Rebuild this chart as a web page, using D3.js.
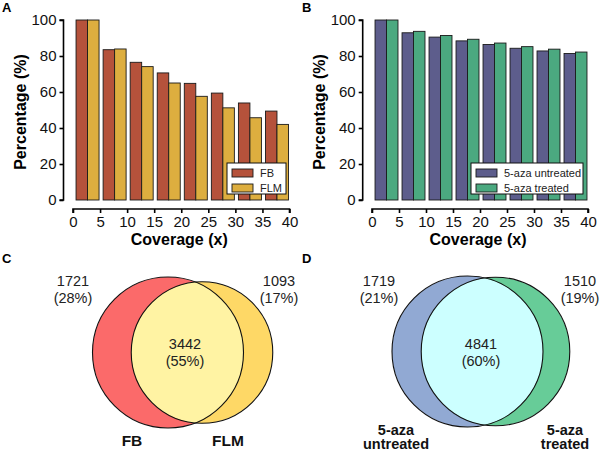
<!DOCTYPE html>
<html>
<head>
<meta charset="utf-8">
<script src="https://cdn.jsdelivr.net/npm/d3@7"></script>
<style>
html,body{margin:0;padding:0;background:#fff;}
svg{display:block;font-family:"Liberation Sans",Arial,Helvetica,sans-serif;}
</style>
</head>
<body>
<svg id="chart" width="600" height="452"></svg>
<script>
// ---- data ----
const coverageTicks = [0, 5, 10, 15, 20, 25, 30, 35, 40];
const coverageBins = ["0-5", "5-10", "10-15", "15-20", "20-25", "25-30", "30-35", "35-40"];
const percentTicks = [0, 20, 40, 60, 80, 100];

const seriesA = ["FB", "FLM"];
const fbValues = [100, 83.5, 76.5, 70.6, 64.8, 59.4, 53.9, 49.4];
const flmValues = [100, 83.9, 74.1, 65.0, 57.6, 51.2, 45.7, 42.0];

const seriesB = ["5-aza untreated", "5-aza treated"];
const untreatedValues = [100, 92.9, 90.5, 88.4, 86.4, 84.3, 82.8, 81.4];
const treatedValues = [100, 93.7, 91.4, 89.3, 87.2, 85.2, 83.8, 82.2];

const vennC = { sets: ["FB", "FLM"], only: [1721, 1093], onlyPct: ["28%", "17%"], both: 3442, bothPct: "55%" };
const vennD = { sets: [["5-aza", "untreated"], ["5-aza", "treated"]], only: [1719, 1510], onlyPct: ["21%", "19%"], both: 4841, bothPct: "60%" };

const svg = d3.select("#chart");

function barPanel(opts) {
  const g = svg.append("g");
  const x = d3.scaleLinear().domain([0, 40]).range([opts.x0, opts.x1]);
  const y = d3.scaleLinear().domain([0, 100]).range([200, 20]);
  const band = d3.scaleBand().domain(coverageBins).range([x(0), x(40)])
    .paddingInner(0.15).paddingOuter(0.075).align(0.75);
  const inner = d3.scaleBand().domain(opts.series).range([0, band.bandwidth()]);

  opts.series.forEach((s, si) => {
    g.selectAll(null).data(opts.values[si]).enter().append("rect")
      .attr("x", (d, i) => band(coverageBins[i]) + inner(s))
      .attr("y", d => y(d))
      .attr("width", inner.bandwidth())
      .attr("height", d => y(0) - y(d))
      .attr("fill", opts.colors[si])
      .attr("stroke", "#1a1a1a")
      .attr("stroke-width", 0.9);
  });

  // y axis
  const yAxis = d3.axisLeft(y).tickValues(percentTicks).tickSize(4).tickPadding(3);
  const ya = g.append("g").attr("transform", `translate(${opts.yAxisX},0)`).call(yAxis);
  ya.select(".domain").attr("d", `M-4,${y(100)}H0V${y(0)}H-4`).attr("stroke-width", 1.6);
  ya.selectAll(".tick line").attr("stroke-width", 1.6);
  ya.selectAll("text").attr("font-size", 15).attr("fill", "#111").attr("font-family", null);

  // x axis
  const xAxis = d3.axisBottom(x).tickValues(coverageTicks).tickSize(4).tickPadding(3);
  const xa = g.append("g").attr("transform", `translate(0,209)`).call(xAxis);
  xa.select(".domain").attr("d", `M${x(0)},4V0H${x(40)}V4`).attr("stroke-width", 1.6);
  xa.selectAll(".tick line").attr("stroke-width", 1.6);
  xa.selectAll("text").attr("font-size", 15).attr("fill", "#111").attr("font-family", null);

  // titles
  g.append("text").attr("transform", `translate(${opts.yAxisX - 38},${(y(0) + y(100)) / 2 + 2}) rotate(-90)`)
    .attr("text-anchor", "middle").attr("font-size", 16).attr("font-weight", "bold").text("Percentage (%)");
  g.append("text").attr("x", (x(0) + x(40)) / 2 - 2).attr("y", 245)
    .attr("text-anchor", "middle").attr("font-size", 16).attr("font-weight", "bold").text("Coverage (x)");

  // panel letter
  g.append("text").attr("x", opts.letterX).attr("y", 12).attr("font-size", 13).attr("font-weight", "bold").text(opts.letter);

  // legend
  const L = opts.legend;
  const lg = g.append("g").attr("transform", `translate(${L.x},${L.y})`);
  lg.append("rect").attr("width", L.w).attr("height", 31).attr("fill", "#fff").attr("stroke", "#111").attr("stroke-width", 1);
  opts.series.forEach((s, si) => {
    lg.append("rect").attr("x", 5).attr("y", 6 + si * 15).attr("width", 21).attr("height", 8)
      .attr("fill", opts.colors[si]).attr("stroke", "#1a1a1a").attr("stroke-width", 0.9);
    lg.append("text").attr("x", 33).attr("y", 14 + si * 15).attr("font-size", 11).attr("fill", "#222").text(s);
  });
}

barPanel({
  x0: 73, x1: 289.5, yAxisX: 63.5, letter: "A", letterX: 2,
  series: seriesA, values: [fbValues, flmValues], colors: ["#b5523b", "#ddae3f"],
  legend: { x: 227, y: 163, w: 59 }
});
barPanel({
  x0: 372, x1: 588, yAxisX: 362.7, letter: "B", letterX: 302,
  series: seriesB, values: [untreatedValues, treatedValues], colors: ["#5d5d8c", "#4ba980"],
  legend: { x: 471, y: 163, w: 112 }
});

// ---- Venn diagrams ----
let clipId = 0;
function venn(v, opts) {
  const g = svg.append("g");
  const sizes = [v.only[0] + v.both, v.only[1] + v.both];
  const r = d3.scaleSqrt().domain([0, d3.max(sizes)]).range([0, opts.rMax]);
  const circles = [
    { cx: opts.cx[0], cy: opts.cy, r: r(sizes[0]), fill: opts.colors[0] },
    { cx: opts.cx[1], cy: opts.cy, r: r(sizes[1]), fill: opts.colors[1] }
  ];
  g.selectAll(null).data(circles).enter().append("circle")
    .attr("cx", d => d.cx).attr("cy", d => d.cy).attr("r", d => d.r).attr("fill", d => d.fill);
  const id = "clip" + (clipId++);
  g.append("clipPath").attr("id", id).append("circle")
    .attr("cx", circles[0].cx).attr("cy", circles[0].cy).attr("r", circles[0].r);
  g.append("circle").attr("clip-path", `url(#${id})`)
    .attr("cx", circles[1].cx).attr("cy", circles[1].cy).attr("r", circles[1].r).attr("fill", opts.colors[2]);
  g.selectAll(null).data(circles).enter().append("circle")
    .attr("cx", d => d.cx).attr("cy", d => d.cy).attr("r", d => d.r)
    .attr("fill", "none").attr("stroke", "#111").attr("stroke-width", 1.1);

  const fmt = d3.format("d");
  const num = (x, y, a, b) => {
    const t = g.append("text").attr("text-anchor", "middle").attr("font-size", 14.5).attr("fill", "#222");
    t.append("tspan").attr("x", x).attr("y", y).text(a);
    t.append("tspan").attr("x", x).attr("y", y + 17).text(b);
  };
  num(opts.labelX[0], 286, fmt(v.only[0]), `(${v.onlyPct[0]})`);
  num(opts.labelX[1], 286, fmt(v.only[1]), `(${v.onlyPct[1]})`);
  num(opts.midX, 349, fmt(v.both), `(${v.bothPct})`);

  v.sets.forEach((s, i) => {
    const lines = Array.isArray(s) ? s : [s];
    lines.forEach((ln, j) => g.append("text").attr("text-anchor", "middle")
      .attr("font-size", opts.setFont).attr("font-weight", "bold").attr("fill", "#111")
      .attr("x", opts.setX[i]).attr("y", opts.setY + j * 14.5).text(ln));
  });

  g.append("text").attr("x", opts.letterX).attr("y", 263).attr("font-size", 13).attr("font-weight", "bold").text(opts.letter);
}

venn(vennC, {
  cx: [168, 202], cy: 352.5, rMax: 75.5, colors: ["#fb6a6a", "#fed866", "#fff3a3"],
  labelX: [73, 279], midX: 185, setX: [132, 228], setY: 446, setFont: 15.5, letter: "C", letterX: 2
});
venn(vennD, {
  cx: [467.5, 495.5], cy: 351.5, rMax: 75.5, colors: ["#91a9d3", "#67cc98", "#ccffff"],
  labelX: [379, 580], midX: 481, setX: [396, 565], setY: 434.5, setFont: 14.5, letter: "D", letterX: 302
});
</script>
</body>
</html>
